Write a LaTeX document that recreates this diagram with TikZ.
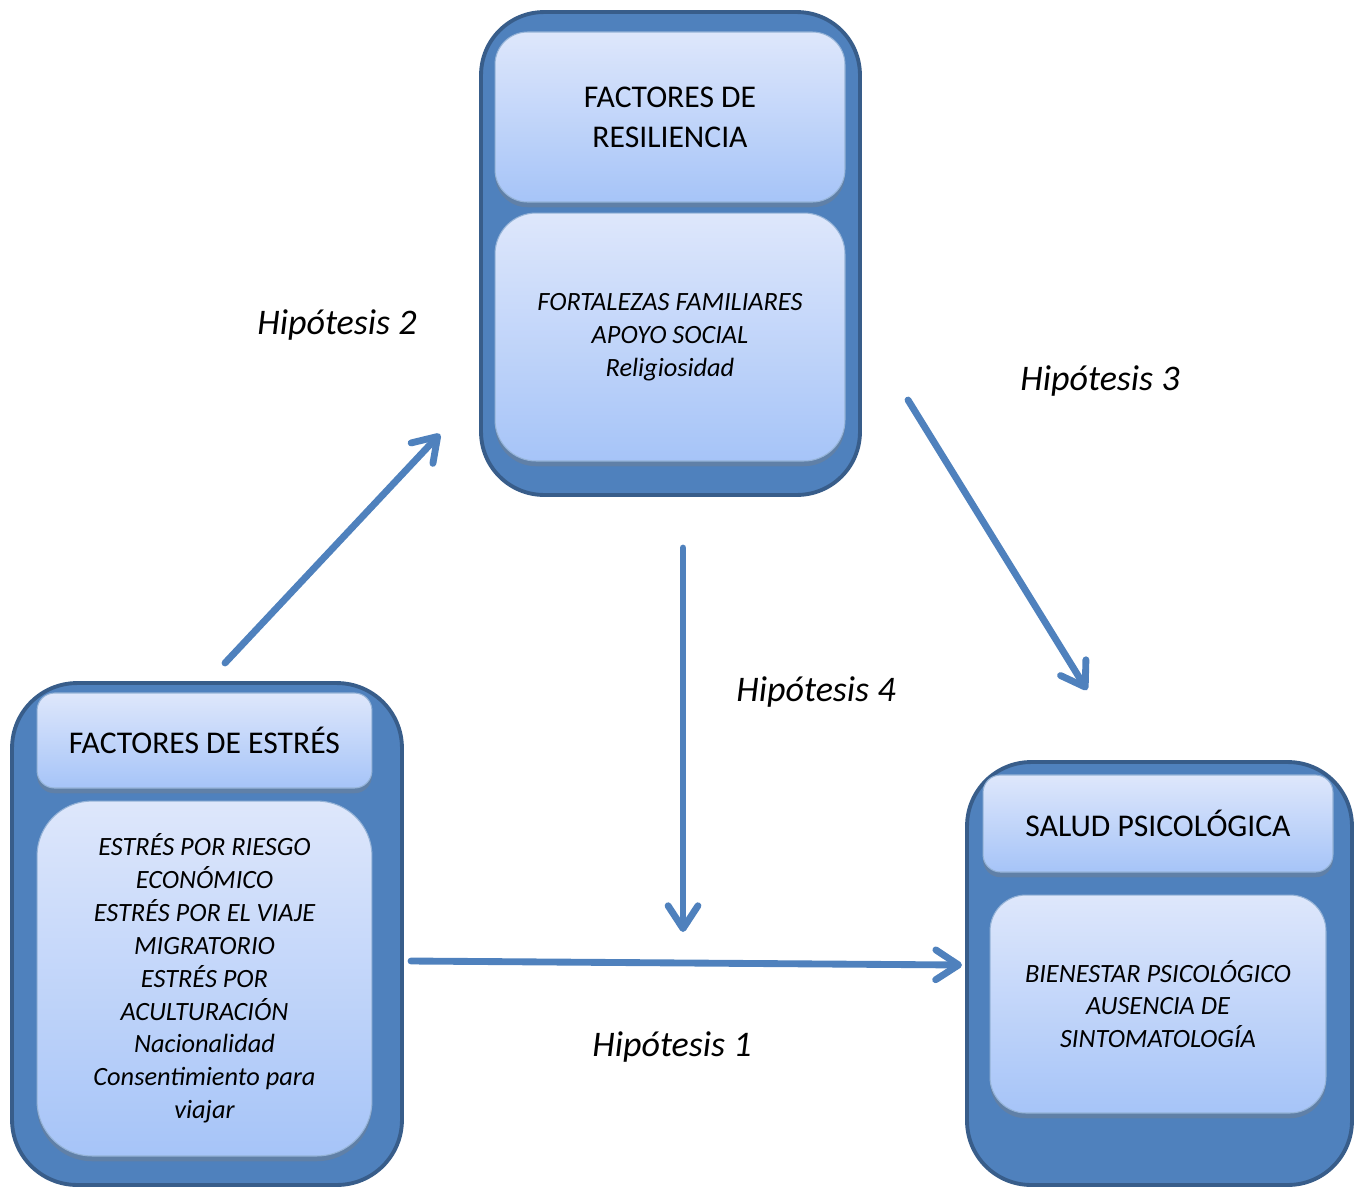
\documentclass[tikz,border=0pt]{standalone}
\usepackage{fontspec}
\setmainfont{Carlito}
\usetikzlibrary{arrows.meta,shadows}

\definecolor{azulgrupo}{HTML}{4F81BD}
\definecolor{bordegrupo}{HTML}{385D8A}
\definecolor{azulclaro}{HTML}{DEE7FB}
\definecolor{azulmedio}{HTML}{A6C4F8}

\tikzset{
	grupo/.style={draw=bordegrupo, line width=2.2pt, fill=azulgrupo},
	titulo/.style={draw=azulgrupo!60!white, line width=0.6pt, top color=azulclaro, bottom color=azulmedio,
		drop shadow={opacity=0.35, shadow xshift=0pt, shadow yshift=-3pt}, font=\fontsize{18}{22.7}\selectfont},
	contenido/.style={titulo, font=\fontsize{15}{18.7}\selectfont\itshape},
	flecha/.style={draw=azulgrupo, line width=3.9pt, line cap=round, -{Straight Barb[round, length=13pt, width=17pt]}},
	hipo/.style={font=\fontsize{20.5}{24}\selectfont\itshape}
}

\begin{document}
\begin{tikzpicture}[x=0.02cm, y=-0.02cm, every text node part/.style={align=center}]
		
		\useasboundingbox (0,0) rectangle (1359,1187);
		
		\node[grupo, rounded corners=1.26cm, minimum width=7.58cm, minimum height=9.66cm] (gres) at (670.5,253.5) {};
		\node[titulo, rounded corners=0.65cm, minimum width=7cm, minimum height=3.4cm] (res) at (670,117) {FACTORES DE\\RESILIENCIA};
		\node[contenido, rounded corners=0.82cm, minimum width=7cm, minimum height=4.96cm] (resc) at (670,337) {FORTALEZAS FAMILIARES\\APOYO SOCIAL\\Religiosidad};
		
		\node[grupo, rounded corners=1.3cm, minimum width=7.8cm, minimum height=10.04cm] (gest) at (207,934) {};
		\node[titulo, rounded corners=0.35cm, minimum width=6.7cm, minimum height=1.9cm] (est) at (204.5,740.5) {FACTORES DE ESTRÉS};
		\node[contenido, rounded corners=1.1cm, minimum width=6.7cm, minimum height=7.1cm] (estc) at (204.5,978.5) {ESTRÉS POR RIESGO\\ECONÓMICO\\ESTRÉS POR EL VIAJE\\MIGRATORIO\\ESTRÉS POR\\ACULTURACIÓN\\Nacionalidad\\Consentimiento para\\viajar};
		
		\node[grupo, rounded corners=1.28cm, minimum width=7.7cm, minimum height=8.46cm] (gsal) at (1159.5,973.5) {};
		\node[titulo, rounded corners=0.35cm, minimum width=7cm, minimum height=1.94cm] (sal) at (1158,823.5) {SALUD PSICOLÓGICA};
		\node[contenido, rounded corners=0.72cm, minimum width=6.72cm, minimum height=4.36cm] (salc) at (1158,1004) {BIENESTAR PSICOLÓGICO\\AUSENCIA DE\\SINTOMATOLOGÍA};
		
		\coordinate (h1a) at (411,961);
		\coordinate (h1b) at (962,965);
		\coordinate (h2a) at (225,663);
		\coordinate (h2b) at (440,434);
		\coordinate (h3a) at (908,400);
		\coordinate (h3b) at (1087,690);
		\coordinate (h4a) at (683,548);
		\coordinate (h4b) at (683,932);
		
		\draw[flecha] (h1a) -- (h1b);
		\draw[flecha] (h2a) -- (h2b);
		\draw[flecha] (h3a) -- (h3b);
		\draw[flecha] (h4a) -- (h4b);
		
		\node[hipo] (hip1) at (672,1047) {Hipótesis 1};
		\node[hipo] (hip2) at (337,325) {Hipótesis 2};
		\node[hipo] (hip3) at (1100,381) {Hipótesis 3};
		\node[hipo] (hip4) at (816,692) {Hipótesis 4};
		
		\end{tikzpicture}
\end{document}
